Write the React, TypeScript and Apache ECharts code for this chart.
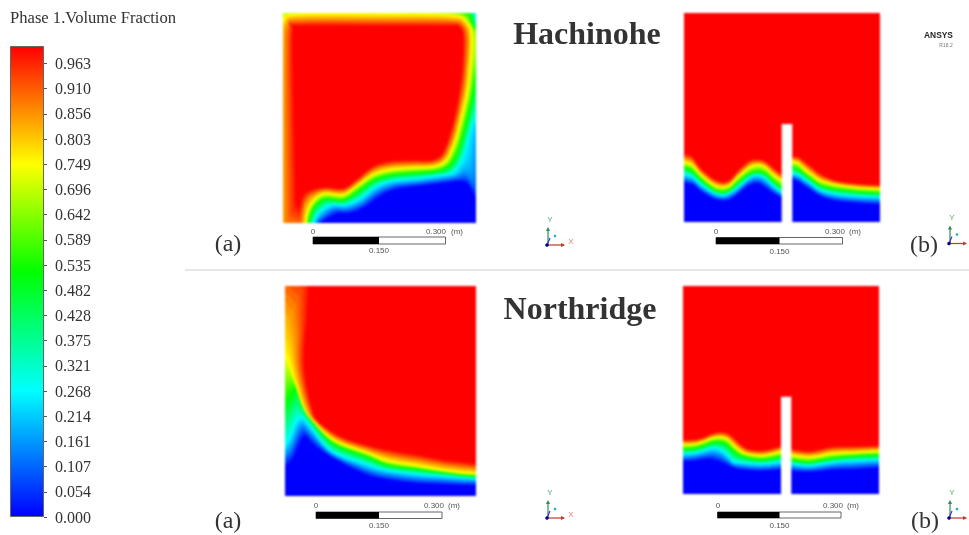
import React, { useEffect, useRef } from "react";
import * as echarts from "echarts";

type Pt = number[];

// Colour scale
const COLOR_STOPS: [number, number[]][] = [
  [0, [0, 0, 255]],
  [0.268, [0, 255, 255]],
  [0.52, [0, 255, 0]],
  [0.75, [255, 255, 0]],
  [1, [255, 0, 0]],
];
const TICK_VALUES = [0, 0.0535, 0.107, 0.1605, 0.214, 0.2675, 0.321, 0.3745, 0.428, 0.4815, 0.535, 0.5885, 0.642, 0.6955, 0.749, 0.8025, 0.856, 0.9095, 0.963];
const TICK_LABELS = ["0.000", "0.054", "0.107", "0.161", "0.214", "0.268", "0.321", "0.375", "0.428", "0.482", "0.535", "0.589", "0.642", "0.696", "0.749", "0.803", "0.856", "0.910", "0.963"];

// Fraction carried by each contour
const CONTOUR_LEVELS = [0.03, 0.27, 0.535, 0.75, 1];

// Hachinohe (a): contours, wall to wall
const TL_C05: Pt[] = [[35,215],[37,210],[45,205],[55,200],[66,200],[80,195],[97,183],[113,176],[135,173],[160,170],[178,168],[186,172],[200,190],[205,120],[208,88],[212,60],[212,30],[200,0],[190,-10],[97,-25],[17,-25],[-20,-20],[-20,30],[-20,215]];
const TL_C27: Pt[] = [[30,215],[31,208],[37,199],[48,192],[62,192],[77,186],[93,174],[110,168],[132,166],[155,163],[170,160],[178,150],[183,136],[188,118],[197,88],[203,60],[205,30],[193,6],[184,-3],[97,-18],[17,-18],[-14,-14],[-16,30],[-16,215]];
const TL_C53: Pt[] = [[25,215],[26,207],[31,194],[42,186],[60,187],[75,178],[91,167],[108,162],[130,160],[152,158],[164,154],[172,144],[177,131],[181,116],[188,88],[193,60],[199,32],[190,12],[176,-3],[97,-10],[17,-10],[-8,-8],[-10,30],[-12,215]];
const TL_C75: Pt[] = [[21,235],[23,207],[28,192],[40,181],[60,182],[74,173],[90,162],[107,157],[130,155],[150,154],[162,149],[168,139],[173,127],[177,112],[184,82],[187,59],[189,25],[184,9],[167,2],[97,1],[17,1],[0,7],[-6,30],[-8,235]];
const TL_C100: Pt[] = [[16,196],[17,193],[22,180],[40,174],[60,175],[74,166],[90,153],[107,148],[130,147],[148,147],[158,142],[163,132],[167,120],[171,105],[176,80],[179,55],[180,25],[176,14],[165,13],[97,13],[14,13],[10,17],[10,60],[13,190]];

// Northridge (a)
const BL_C05: Pt[] = [[-8,182],[0,180],[8,172],[14,158],[20,150],[30,160],[48,172],[80,188],[100,193],[130,197],[155,198],[180,199],[200,199]];
const BL_C27: Pt[] = [[-8,162],[0,160],[6,150],[11,137],[17,132],[27,143],[46,165],[80,178],[100,184],[130,188],[155,190],[180,192],[200,193]];
const BL_C53: Pt[] = [[-8,118],[0,116],[7,106],[13,102],[21,124],[31,139],[50,158],[84,171],[104,179],[134,183],[157,186],[180,189],[200,190]];
const BL_C75: Pt[] = [[-8,62],[0,71],[5,81],[10,97],[18,121],[27,134],[48,154],[82,167],[102,175],[132,180],[155,184],[178,187],[200,188]];
const BL_C100: Pt[] = [[24,-12],[22,30],[19,72],[22,100],[27,121],[33,135],[55,150],[82,159],[110,165],[140,170],[160,174],[178,176],[200,179]];

// Hachinohe (b): heights of each contour at the common stations
const TR_X = [-6, 6, 11, 16, 22.7, 31, 39.3, 46, 52.7, 59.3, 66, 73.3, 81, 89.3, 99, 107, 114.3, 119.3, 127.7, 136, 147.7, 159.3, 177.7, 204];
const TR_C05 = [168.7, 171, 173, 177.7, 182, 186.3, 187.7, 186.3, 182, 176.3, 172, 170.3, 174.3, 180.3, 185.3, 165.3, 168.7, 172, 177.7, 183, 187, 188.7, 190.3, 192];
const TR_C27 = [160.3, 163, 166.3, 171, 175.7, 180.3, 182, 179.7, 175.3, 169.7, 164.3, 162, 165.3, 173, 180.3, 160.3, 162, 165.3, 171, 177, 180.3, 182, 183.3, 184.3];
const TR_C53 = [153.7, 156.3, 160.3, 165.3, 171, 177, 178.7, 176.3, 170.3, 164.7, 160.3, 158.7, 160.3, 167.7, 175.3, 153.7, 156.3, 160.3, 166.3, 172, 175.3, 177, 179, 180.3];
const TR_C75 = [148.7, 151, 155.3, 161, 167, 172.7, 174.3, 172, 165.3, 159.7, 154.3, 152, 154.3, 162, 168.7, 148.7, 150.3, 155.3, 162, 167.7, 171, 173, 175, 176.3];
const TR_C100 = [140.3, 142, 147, 154.3, 160.3, 166.3, 168.7, 166.3, 158.7, 152, 147, 146, 147.7, 154.3, 162, 143, 143.7, 147, 153.7, 160.3, 166, 168.7, 170.7, 172];

// Northridge (b)
const BR_X = [-6, 10, 20, 29, 37, 44, 50, 57, 64, 72, 80, 89, 99, 107, 117, 127, 137, 147, 159, 170, 184, 204];
const BR_C05 = [175.7, 174.7, 173.3, 173.3, 175.7, 179, 181.3, 183.3, 184, 184.7, 184.7, 184.3, 183.3, 184.7, 185.7, 185.7, 185, 184, 183.3, 183.3, 182.3, 181.3];
const BR_C27 = [168, 167.3, 165, 162.3, 164, 169, 175.7, 176.7, 177.3, 178, 178, 177.3, 175.7, 177.3, 179, 179.7, 178.3, 176.7, 175.3, 174.7, 174, 173.3];
const BR_C53 = [163, 162.3, 159.7, 156.3, 155.7, 158, 164, 169, 171.3, 172.7, 173.3, 172, 170, 173.3, 175, 175.7, 174, 172.3, 171, 170, 169.3, 169];
const BR_C75 = [159, 158.3, 155.7, 152.3, 151.3, 153.3, 159, 165, 168, 169.3, 169.7, 168, 165.7, 169, 170.7, 171.3, 170, 168, 167, 166.7, 165.7, 164.7];
const BR_C100 = [153.3, 153.3, 151.3, 147.3, 145.7, 146.7, 150.7, 157.3, 162.3, 164, 164, 162.3, 159, 162.3, 164, 164.7, 163, 160.7, 160, 160, 159.7, 159];

// Baffles: [left, right, top]
const TR_BAFFLE = [97.7, 108.3, 111];
const BR_BAFFLE = [98, 108.3, 110.7];

const SERIF = '"Liberation Serif"';
const SANS = '"Liberation Sans"';
const BAND_STEPS = 10;

const colorAt = (v: number) => {
  for (let i = 1; i < COLOR_STOPS.length; i++) {
    const [a, ca] = COLOR_STOPS[i - 1];
    const [b, cb] = COLOR_STOPS[i];
    if (v <= b) {
      const t = (v - a) / (b - a);
      const c = ca.map((x, k) => Math.round(x + (cb[k] - x) * t));
      return `rgb(${c[0]},${c[1]},${c[2]})`;
    }
  }
  return "rgb(255,0,0)";
};

const zip = (xs: number[], ys: number[]): Pt[] => xs.map((x, i) => [x, ys[i]]);

const spline = (pts: Pt[]): Pt[] => {
  const out: Pt[] = [];
  for (let i = 0; i < pts.length - 1; i++) {
    const p0 = pts[i - 1] || pts[i];
    const p1 = pts[i];
    const p2 = pts[i + 1];
    const p3 = pts[i + 2] || p2;
    for (let s = 0; s < 5; s++) {
      const t = s / 5;
      const f = (k: number) =>
        0.5 * (2 * p1[k] + (p2[k] - p0[k]) * t + (2 * p0[k] - 5 * p1[k] + 4 * p2[k] - p3[k]) * t * t + (3 * p1[k] - p0[k] - 3 * p2[k] + p3[k]) * t * t * t);
      out.push([f(0), f(1)]);
    }
  }
  out.push(pts[pts.length - 1]);
  return out;
};

type Band = { color: string; pts: Pt[] };

const buildBands = (contours: Pt[][], w: number, h: number, closure: Pt[], breakAt?: number): Band[] => {
  const bands: Band[] = [
    { color: colorAt(0), pts: [[-20, -20], [w + 20, -20], [w + 20, h + 20], [-20, h + 20]] },
  ];
  const smooth = (c: Pt[]) =>
    breakAt === undefined ? spline(c) : [...spline(c.slice(0, breakAt)), ...spline(c.slice(breakAt))];
  const push = (c: Pt[], v: number) => bands.push({ color: colorAt(v), pts: [...smooth(c), ...closure] });
  push(contours[0], CONTOUR_LEVELS[0]);
  for (let k = 1; k < contours.length; k++) {
    for (let s = 1; s <= BAND_STEPS; s++) {
      const t = s / BAND_STEPS;
      const c = contours[k - 1].map((p, i) => [
        p[0] + (contours[k][i][0] - p[0]) * t,
        p[1] + (contours[k][i][1] - p[1]) * t,
      ]);
      push(c, CONTOUR_LEVELS[k - 1] + (CONTOUR_LEVELS[k] - CONTOUR_LEVELS[k - 1]) * t);
    }
  }
  return bands;
};

const OVER_TOP: Pt[] = [[260, -60], [-60, -60]];
const PANELS = [
  { left: 283, top: 13, w: 193, h: 210, bands: buildBands([TL_C05, TL_C27, TL_C53, TL_C75, TL_C100], 193, 210, []), baffle: null as number[] | null },
  { left: 684, top: 13, w: 196, h: 209, bands: buildBands([TR_C05, TR_C27, TR_C53, TR_C75, TR_C100].map((c) => zip(TR_X, c)), 196, 209, OVER_TOP, 15), baffle: TR_BAFFLE },
  { left: 285, top: 286, w: 191, h: 210, bands: buildBands([BL_C05, BL_C27, BL_C53, BL_C75, BL_C100], 191, 210, OVER_TOP), baffle: null },
  { left: 683, top: 286, w: 196, h: 208, bands: buildBands([BR_C05, BR_C27, BR_C53, BR_C75, BR_C100].map((c) => zip(BR_X, c)), 196, 208, OVER_TOP, 13), baffle: BR_BAFFLE },
];

const text = (t: string, x: number, y: number, size: number, opts: any = {}) => ({
  type: "text",
  silent: true,
  style: {
    text: t,
    x,
    y,
    fontSize: size,
    fontFamily: opts.family || SANS,
    fontWeight: opts.weight || "normal",
    fill: opts.fill || "#555",
    align: opts.align || "center",
    verticalAlign: "middle",
  },
});

const scaleBar = (x0: number, xm: number, x1: number, y0: number, y1: number, tx: number[], ty: number, by: number) => [
  { type: "rect", silent: true, shape: { x: x0, y: y0, width: x1 - x0, height: y1 - y0 }, style: { fill: "#fff", stroke: "#666", lineWidth: 1 } },
  { type: "rect", silent: true, shape: { x: x0, y: y0, width: xm - x0, height: y1 - y0 }, style: { fill: "#000" } },
  text("0", tx[0], ty, 8),
  text("0.300", tx[1], ty, 8),
  text("(m)", tx[2], ty, 8),
  text("0.150", xm, by, 8),
];

const triad = (ox: number, oy: number, showX: boolean) => {
  const arrow = (x1: number, y1: number, x2: number, y2: number, c: string) => ({
    type: "line", silent: true, shape: { x1, y1, x2, y2 }, style: { stroke: c, lineWidth: 1.2 },
  });
  const items: any[] = [
    arrow(ox, oy, ox + 17, oy, "#c0392b"),
    { type: "polygon", silent: true, shape: { points: [[ox + 18, oy], [ox + 14, oy - 2], [ox + 14, oy + 2]] }, style: { fill: "#c0392b" } },
    arrow(ox + 1, oy, ox + 1, oy - 16, "#2e8b57"),
    { type: "polygon", silent: true, shape: { points: [[ox + 1, oy - 18], [ox - 1, oy - 14], [ox + 3, oy - 14]] }, style: { fill: "#2e8b57" } },
    arrow(ox, oy, ox + 3, oy - 7, "#3a3ac0"),
    { type: "circle", silent: true, shape: { cx: ox, cy: oy, r: 1.8 }, style: { fill: "#00008b" } },
    { type: "circle", silent: true, shape: { cx: ox + 8, cy: oy - 9, r: 1.3 }, style: { fill: "#20b2c0" } },
    text("Y", ox + 3, oy - 26, 8, { fill: "#5aa96f" }),
  ];
  if (showX) items.push(text("X", ox + 24, oy - 4, 8, { fill: "#d98080" }));
  return items;
};

const layerStyle = (blur: number): React.CSSProperties => ({
  position: "absolute", left: 0, top: 0, width: 969, height: 535, filter: `blur(${blur}px)`,
});

export default function App() {
  const fieldRef = useRef<HTMLDivElement>(null);
  const labelRef = useRef<HTMLDivElement>(null);
  useEffect(() => {
    const field = echarts.init(fieldRef.current!, undefined, { renderer: "svg" });
    const labels = echarts.init(labelRef.current!, undefined, { renderer: "svg" });
    const grids: any[] = [];
    const xAxes: any[] = [];
    const yAxes: any[] = [];
    const series: any[] = [];
    PANELS.forEach((p, g) => {
      grids.push({ left: p.left, top: p.top, width: p.w, height: p.h });
      xAxes.push({ type: "value", gridIndex: g, min: 0, max: p.w, show: false });
      yAxes.push({ type: "value", gridIndex: g, min: 0, max: p.h, inverse: true, show: false });
      series.push({
        type: "custom", xAxisIndex: g, yAxisIndex: g, clip: true, silent: true,
        data: p.bands.map((_, k) => [k, k]),
        renderItem: (params: any, api: any) => {
          const b = p.bands[params.dataIndex];
          return {
            type: "polygon",
            shape: { points: b.pts.map((q) => api.coord(q)) },
            style: { fill: b.color, stroke: b.color, lineWidth: 0.3 },
          };
        },
      });
      if (p.baffle) {
        const bf = p.baffle;
        series.push({
          type: "custom", xAxisIndex: g, yAxisIndex: g, clip: true, silent: true, z: 3,
          data: [[bf[0], bf[2]]],
          renderItem: (_: any, api: any) => {
            const a = api.coord([bf[0], bf[2]]);
            const c = api.coord([bf[1], p.h]);
            return { type: "rect", shape: { x: a[0], y: a[1], width: c[0] - a[0], height: c[1] - a[1] + 2 }, style: { fill: "#fff" } };
          },
        });
      }
    });
    field.setOption({ animation: false, grid: grids, xAxis: xAxes, yAxis: yAxes, series });

    const stops = COLOR_STOPS.map(([v]) => ({ offset: 1 - v, color: colorAt(v) })).reverse();
    const graphic: any[] = [
      text("Phase 1.Volume Fraction", 10, 17, 16.6, { family: SERIF, fill: "#333", align: "left" }),
      text("Hachinohe", 587, 33, 32, { family: SERIF, weight: "bold", fill: "#333" }),
      text("Northridge", 580, 308, 32, { family: SERIF, weight: "bold", fill: "#333" }),
      text("(a)", 228, 243, 24, { family: SERIF, fill: "#333" }),
      text("(b)", 924, 244, 24, { family: SERIF, fill: "#333" }),
      text("(a)", 228, 520, 24, { family: SERIF, fill: "#333" }),
      text("(b)", 925, 520, 24, { family: SERIF, fill: "#333" }),
      text("ANSYS", 938.5, 35, 8.4, { weight: "bold", fill: "#222" }),
      text("R18.2", 946, 44.5, 5, { fill: "#777" }),
      { type: "line", silent: true, shape: { x1: 185, y1: 270, x2: 969, y2: 270 }, style: { stroke: "#e6e6e6", lineWidth: 2 } },
      ...scaleBar(313, 379, 445.5, 237, 244, [313, 436, 457], 231, 250.5),
      ...scaleBar(716, 779.5, 842.5, 237.5, 244, [716, 835, 855], 231, 251),
      ...scaleBar(316, 379, 442, 512, 518.5, [316, 434, 454], 505, 525),
      ...scaleBar(717.5, 779.5, 841, 512, 518, [718, 833, 853], 505, 525),
      ...triad(547, 245, true),
      ...triad(949, 243.5, false),
      ...triad(547, 518, true),
      ...triad(949, 518, false),
    ];
    labels.setOption({
      animation: false,
      grid: { left: 10, top: 46, width: 34, height: 471 },
      xAxis: { type: "category", data: ["phase"], show: false },
      yAxis: {
        type: "value", min: 0, max: 1, position: "right",
        axisLine: { show: false },
        splitLine: { show: false },
        axisTick: { show: true, length: 3, lineStyle: { color: "#555" }, customValues: TICK_VALUES },
        axisLabel: {
          customValues: TICK_VALUES,
          margin: 11,
          padding: [5, 0, 0, 0],
          fontFamily: SERIF, fontSize: 16, color: "#333",
          formatter: (v: number) => {
            const i = TICK_VALUES.findIndex((t) => Math.abs(t - v) < 1e-6);
            return i >= 0 ? TICK_LABELS[i] : "";
          },
        },
      },
      series: [{
        type: "bar", data: [1], barWidth: "100%", silent: true,
        itemStyle: { color: new echarts.graphic.LinearGradient(0, 0, 0, 1, stops), borderColor: "#666", borderWidth: 1 },
      }],
      graphic,
    });
    return () => {
      field.dispose();
      labels.dispose();
    };
  }, []);
  return (
    <div style={{ position: "absolute", left: 0, top: 0, width: 969, height: 535, background: "#fff", overflow: "hidden" }}>
      <div ref={fieldRef} style={layerStyle(1.1)} />
      <div ref={labelRef} style={layerStyle(0.5)} />
    </div>
  );
}
